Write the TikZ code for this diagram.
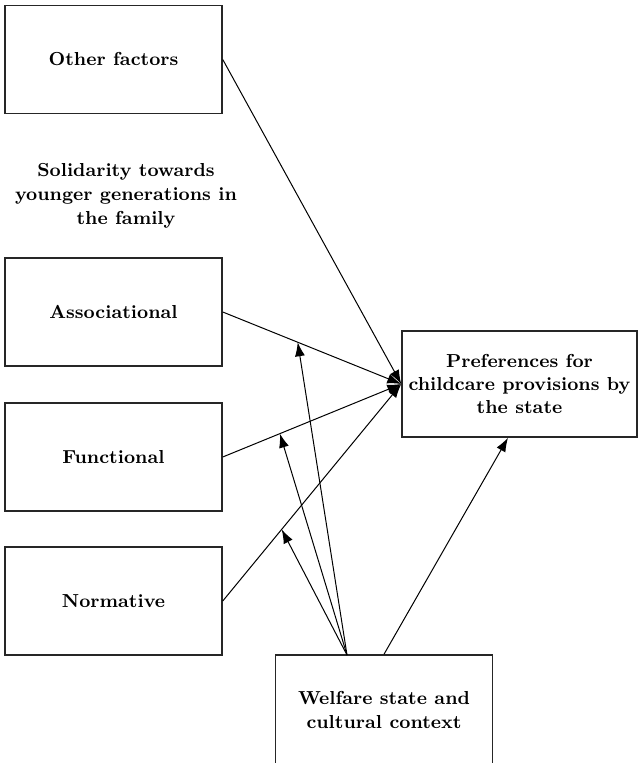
\documentclass[tikz,border=0pt]{standalone}
\usepackage{tikz}
\usetikzlibrary{arrows.meta}

\tikzset{
  factorbox/.style={draw=black!85, line width=0.75pt, minimum width=108.5pt,
    minimum height=54pt, inner sep=0pt, align=center,
    font=\fontsize{9.4}{11.7}\selectfont\bfseries},
  label text/.style={align=center, font=\fontsize{9.4}{11.9}\selectfont\bfseries},
  effect/.style={-{Latex[length=7pt,width=5pt]}, line width=0.5pt}
}

\begin{document}
\begin{tikzpicture}[x=0.5pt, y=-0.5pt]
  \useasboundingbox (0,0) rectangle (638,763);

  % left column of factors
  \node[factorbox] (other) at (113.5,59.5) {Other factors};
  \node[label text] (solid) at (126,196) {Solidarity towards\\younger generations in\\the family};
  \node[factorbox] (assoc) at (113.5,312) {Associational};
  \node[factorbox] (func) at (113.5,457) {Functional};
  \node[factorbox] (norm) at (113.5,601) {Normative};

  % outcome and context
  \node[factorbox, minimum width=117.5pt, minimum height=53pt] (pref) at (519.5,384)
    {Preferences for\\childcare provisions by\\the state};
  \node[factorbox, minimum height=55pt] (welf) at (384,710)
    {Welfare state and\\cultural context};

  % direct effects
  \draw[effect] (other.east) -- (pref.west);
  \draw[effect] (assoc.east) -- (pref.west) coordinate[pos=0.42] (m1);
  \draw[effect] (func.east) -- (pref.west) coordinate[pos=0.32] (m2);
  \draw[effect] (norm.east) -- (pref.west) coordinate[pos=0.33] (m3);

  % context effects (moderation)
  \coordinate (w1) at (347,655);
  \draw[effect] (w1) -- (m1);
  \draw[effect] (w1) -- (m2);
  \draw[effect] (w1) -- (m3);
  \draw[effect] (welf.north) -- (pref.south -| 508,0);
\end{tikzpicture}
\end{document}
